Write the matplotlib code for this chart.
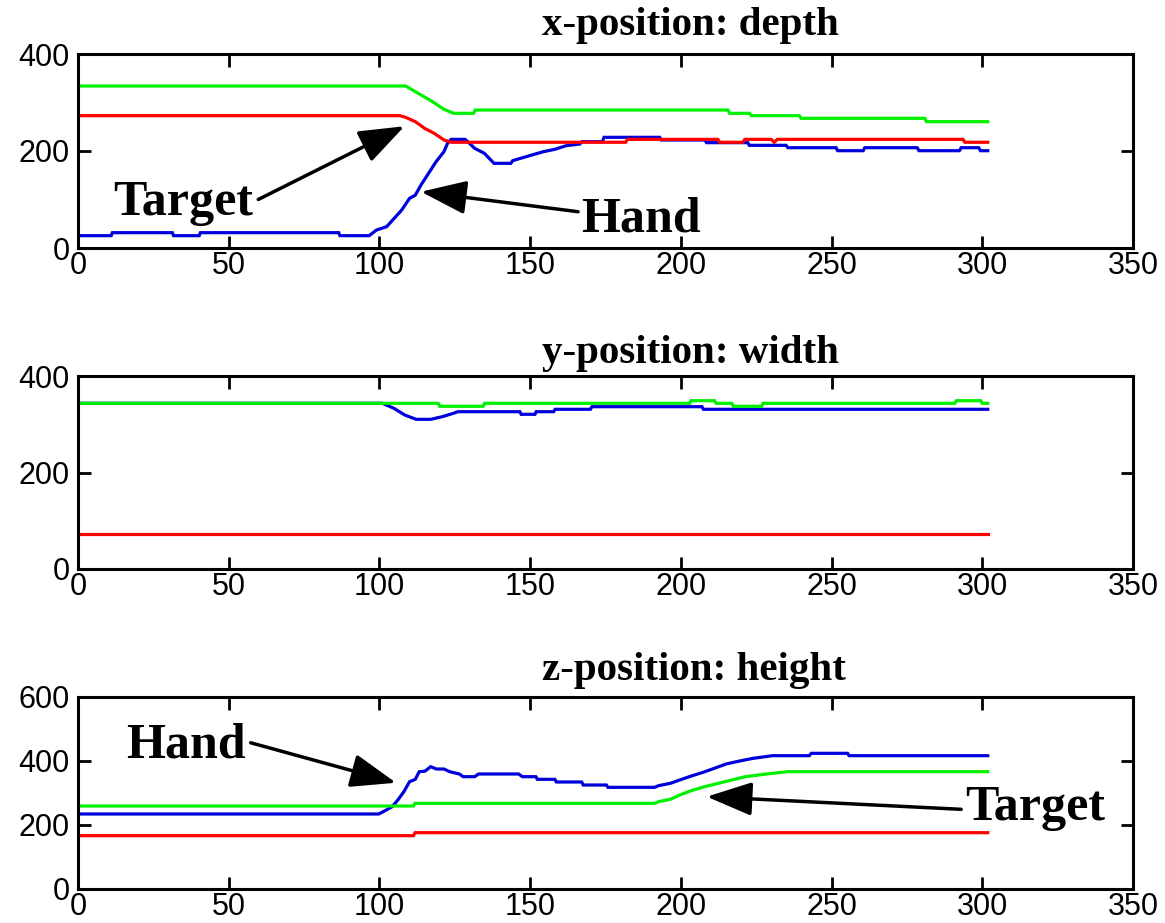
import matplotlib
matplotlib.use("Agg")
import matplotlib.pyplot as plt

# ---------------- data ----------------
x_ticks = [0, 50, 100, 150, 200, 250, 300, 350]
y_ticks_xy = [0, 200, 400]
y_ticks_z = [0, 200, 400, 600]
titles = ["x-position: depth", "y-position: width", "z-position: height"]

depth_target_far = [(0, 334), (108.7, 334), (110.6, 327), (113.8, 315.5), (117.6, 301.7), (121.4, 286),
                    (124.6, 277.7), (131.2, 277.7), (131.8, 284.5), (215.6, 284.5), (216.2, 277.7),
                    (222.8, 277.7), (223.4, 272.8), (239.3, 272.8), (239.9, 267.4), (280.9, 267.4),
                    (281.5, 260.5), (301.8, 260.5)]
depth_target = [(0, 272.8), (106.8, 272.8), (108.7, 269.4), (111.9, 260.5), (115.0, 246.7), (118.2, 236.4),
                (121.4, 222.7), (123.9, 218), (181.7, 218), (182.3, 224), (212.3, 224), (212.9, 218),
                (220.6, 218), (221.2, 224), (230.0, 224), (231.0, 218), (232.0, 224), (293.6, 224),
                (294.2, 218), (301.8, 218)]
depth_hand = [(0, 25.4), (11, 25.4), (11.4, 31.6), (31.3, 31.6), (31.7, 25.4), (40.2, 25.4), (40.6, 31.6),
              (86.5, 31.6), (86.9, 25.4), (96.6, 25.4), (99.0, 37), (102.4, 43.9), (104.9, 61.2),
              (107.4, 78.4), (110.0, 102.4), (111.9, 109), (113.8, 130), (116.3, 154), (118.8, 178),
              (121.4, 198.6), (122.6, 215.9), (123.8, 224), (128.4, 224), (129.5, 218), (131.6, 205.5),
              (134.8, 195.3), (138.0, 174.6), (143.6, 174.6), (144.2, 180), (146.8, 184.9), (150.6, 191.8),
              (154.4, 198.6), (158.2, 203.5), (162.0, 211), (166.5, 214.4), (167.2, 219.2), (174.0, 219.2),
              (174.5, 228.2), (193.0, 228.2), (193.5, 222.7), (208.0, 222.7), (208.5, 217.2), (222.2, 217.2),
              (222.7, 211.7), (234.9, 211.7), (235.5, 206.8), (251.5, 206.8), (252.0, 200.6), (260.5, 200.6),
              (261.0, 206.8), (278.4, 206.8), (279.0, 200.6), (292.4, 200.6), (293.0, 206.8), (298.8, 206.8),
              (299.4, 200.6), (301.8, 200.6)]

width_target_far = [(0, 343.4), (119.5, 343.4), (120, 337.2), (134.4, 337.2), (134.9, 343.4), (202.9, 343.4),
                    (203.4, 348.8), (211.2, 348.8), (211.7, 343.4), (216.9, 343.4), (217.4, 337.2),
                    (226.8, 337.2), (227.3, 343.4), (290.9, 343.4), (291.4, 348.8), (299.5, 348.8),
                    (300, 343.4), (301.8, 343.4)]
width_target = [(0, 72.5), (301.8, 72.5)]
width_hand = [(0, 343.4), (101, 343.4), (104.8, 333), (108.4, 319.2), (112.2, 310.2), (117, 310.2),
              (120.8, 315.6), (124.5, 322.6), (126, 326), (146.6, 326), (147, 320.6), (151.6, 320.6),
              (152, 326), (157.8, 326), (158.3, 331), (170, 331), (170.5, 336.4), (207, 336.4),
              (207.5, 331), (301.8, 331)]

height_target_far = [(0, 259.4), (111.3, 259.4), (111.8, 267.7), (191.3, 267.7), (192.6, 272.9), (196.5, 280.2),
                     (199.6, 293.7), (203.4, 307.2), (207.9, 319.8), (212.4, 330.2), (216.9, 340.6),
                     (221.4, 351), (228.4, 359.4), (235.4, 366.6), (301.8, 366.6)]
height_target = [(0, 166.6), (111.3, 166.6), (111.8, 176), (301.8, 176)]
height_hand = [(0, 234.4), (99.8, 234.4), (102.3, 246.9), (104.2, 257.2), (106.1, 278), (108.1, 304),
               (110, 335.3), (111.9, 342.7), (113.2, 366.6), (115.1, 368.1), (117, 382.2), (118.9, 375),
               (121.4, 375), (123.3, 366.6), (126.5, 359.4), (127.8, 351), (131.6, 351), (132.9, 359.4),
               (146.2, 359.4), (147.4, 351), (151.9, 351), (152.4, 342.7), (158.2, 342.7), (158.7, 334.4),
               (167.1, 334.4), (167.6, 325), (175.3, 325), (175.8, 317.7), (191.3, 317.7), (192.6, 322.9),
               (196.5, 330.2), (199.6, 340.6), (202.8, 351), (207.3, 364.5), (211.1, 377.1), (215, 390.6),
               (219.5, 400), (224, 408.4), (230.4, 416.6), (242.6, 416.6), (243.3, 424), (255.3, 424),
               (255.8, 416.6), (301.8, 416.6)]

# annotations: (label, text x, text baseline y, arrow tail (x,y), arrow tip (x,y))
annots = {
    0: [("Target", 11.6, 68, (59.8, 100), (108.3, 251)),
        ("Hand", 166.9, 33, (165.9, 74.8), (113.8, 116))],
    2: [("Hand", 15.9, 412, (57.3, 457), (105.5, 332)),
        ("Target", 294.3, 215.6, (293, 249), (208.6, 288.5))],
}

panels = [
    (depth_target_far, depth_target, depth_hand, (0, 400), y_ticks_xy),
    (width_target_far, width_target, width_hand, (0, 400), y_ticks_xy),
    (height_target_far, height_target, height_hand, (0, 600), y_ticks_z),
]

# ---------------- styling ----------------
GREEN = "#00f000"
RED = "#ff0000"
BLUE = "#0000dd"
SANS = "Liberation Sans"
SERIF = "Liberation Serif"

fig = plt.figure(figsize=(11.65, 9.23), dpi=100)
W, H = 1165.0, 923.0
rects = [(78, 54, 248), (78, 376, 569), (78, 697, 889)]
title_base = [35, 363, 680]

for i, (gser, rser, bser, ylim, yt) in enumerate(panels):
    left, top, bot = rects[i]
    ax = fig.add_axes([left / W, 1 - bot / H, (1133 - left) / W, (bot - top) / H])
    for ser, col in ((bser, BLUE), (rser, RED), (gser, GREEN)):
        xs = [p[0] for p in ser]
        ys = [p[1] for p in ser]
        ax.plot(xs, ys, color=col, lw=2.3, solid_joinstyle="miter")
    ax.set_xlim(0, 350)
    ax.set_ylim(*ylim)
    ax.set_xticks(x_ticks)
    ax.set_yticks(yt)
    ax.set_xticklabels([str(t) for t in x_ticks], fontfamily=SANS, fontsize=22)
    ax.set_yticklabels([str(t) for t in yt], fontfamily=SANS, fontsize=22)
    ax.tick_params(direction="in", length=9, width=2, top=True, right=True)
    ax.tick_params(axis="x", pad=2)
    ax.tick_params(axis="y", pad=6)
    for s in ax.spines.values():
        s.set_linewidth(2.2)
    fig.text(542 / W, 1 - title_base[i] / H, titles[i], fontfamily=SERIF, fontweight="bold",
             fontsize=29.5, ha="left", va="baseline")
    for (lab, tx, ty, tail, tip) in annots.get(i, []):
        ax.text(tx, ty, lab, fontfamily=SERIF, fontweight="bold", fontsize=36,
                ha="left", va="baseline")
        ax.annotate("", xy=tip, xytext=tail,
                    arrowprops=dict(arrowstyle="-|>,head_length=0.7,head_width=0.26",
                                    mutation_scale=40, lw=2.5, color="black",
                                    shrinkA=0, shrinkB=0))

fig.savefig("out.png", dpi=100)
